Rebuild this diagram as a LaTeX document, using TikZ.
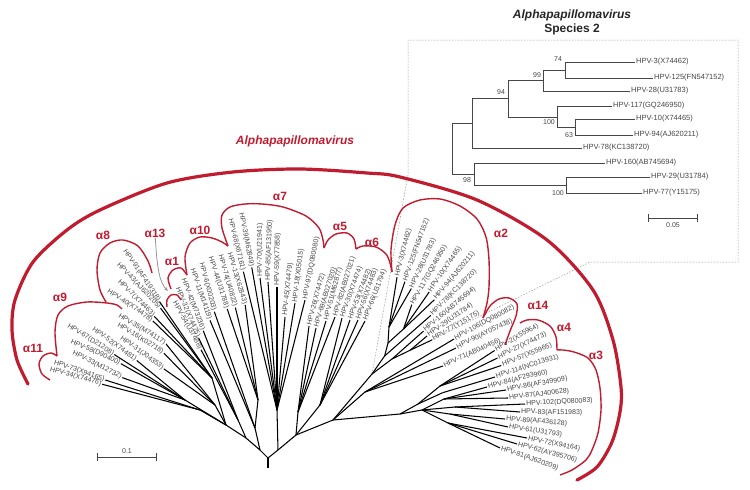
\documentclass[tikz,border=0pt]{standalone}
\usepackage{fontspec}
\setmainfont{Liberation Sans}
\usepackage{tikz}
\usetikzlibrary{arrows.meta}
\definecolor{myred}{RGB}{192,28,48}
\definecolor{mytext}{RGB}{70,70,70}
\definecolor{mygray}{RGB}{150,150,150}
\newcommand{\hpv}[2]{HPV-#1(#2)}
\tikzset{
  br/.style={line width=1.05pt, draw=black},
  ibr/.style={line width=0.6pt, draw=mytext},
  lab/.style={font=\fontsize{7}{8}\selectfont, text=mytext, inner sep=1pt, anchor=west},
  il/.style={lab, font=\fontsize{7.5}{8}\selectfont},
  num/.style={font=\fontsize{7}{8}\selectfont, text=mytext, inner sep=0pt},
  clade/.style={draw=myred, line width=1.4pt},
  cname/.style={text=myred, font=\bfseries\fontsize{12}{12}\selectfont, inner sep=0pt},
  bigarc/.style={draw=myred, line width=3.2pt, line cap=round},
  zoomline/.style={draw=mygray, line width=0.5pt, dash pattern=on 1.5pt off 1.5pt},
  sbar/.style={draw=mytext, line width=0.8pt, {Bar[width=8pt]}-{Bar[width=8pt]}},
  arr13/.style={draw=mygray, line width=0.8pt, -{Stealth[length=4pt, width=3pt]}}
}

\begin{document}
\begin{tikzpicture}[x=1pt, y=-1pt]
  \useasboundingbox (0,0) rectangle (750,490);

  % frame of the inset
  \coordinate (z1) at (408,175);
  \coordinate (z2) at (408,40);
  \coordinate (z3) at (738,40);
  \coordinate (z4) at (738,262);
  \coordinate (z5) at (590,262);

  % internal nodes of the big tree
  \coordinate (rb) at (268,468);
  \coordinate (r0) at (268,458);
  \coordinate (L) at (260,450);
  \coordinate (R) at (278,450);
  \coordinate (lA) at (246,438);
  \coordinate (lB) at (226,425);
  \coordinate (n11) at (200,410);
  \coordinate (s9a) at (185,400);
  \coordinate (s9b) at (215,405);
  \coordinate (n8) at (212,378);
  \coordinate (n1) at (238,420);
  \coordinate (n10) at (255,428);
  \coordinate (n10b) at (258,400);
  \coordinate (a7) at (277,410);
  \coordinate (r1) at (296,435);
  \coordinate (n5) at (298,412);
  \coordinate (n6) at (320,405);
  \coordinate (r2) at (333,420);
  \coordinate (a2) at (372,374);
  \coordinate (s78) at (384.6,356);
  \coordinate (s94) at (388,343);
  \coordinate (s23) at (389,327);
  \coordinate (s110) at (403.5,329);
  \coordinate (s98) at (392,359);
  \coordinate (s100) at (410.2,350.2);
  \coordinate (n14) at (365,392);
  \coordinate (r3) at (400,414);
  \coordinate (r4) at (418,404);
  \coordinate (n4) at (440,386);
  \coordinate (nA) at (442.6,392.7);
  \coordinate (n3) at (422,410);
  \coordinate (nB) at (444,399);
  \coordinate (nC) at (455,407);
  \coordinate (nD) at (449.7,414);
  \coordinate (nE) at (448,423);

  % leaf labels, left half (read towards the root)
  \node[lab, rotate=-16] (h34) at (49,369) {\hpv{34}{X74476}};
  \node[lab, rotate=-19] (h73) at (53,362) {\hpv{73}{X94165}};
  \node[lab, rotate=-27] (h33) at (72,352) {\hpv{33}{M12732}};
  \node[lab, rotate=-24] (h58) at (70,341) {\hpv{58}{D90400}};
  \node[lab, rotate=-32] (h67) at (67,325) {\hpv{67}{D21208}};
  \node[lab, rotate=-36] (h52) at (92,328) {\hpv{52}{X74481}};
  \node[lab, rotate=-36] (h31) at (120,337) {\hpv{31}{J04353}};
  \node[lab, rotate=-32] (h16) at (117,324) {\hpv{16}{K02718}};
  \node[lab, rotate=-31] (h35) at (118,315) {\hpv{35}{M74117}};
  \node[lab, rotate=-34] (h40) at (107,290) {\hpv{40}{X74478}};
  \node[lab, rotate=-45] (h7) at (118,280) {\hpv{7}{X74463}};
  \node[lab, rotate=-46] (h43) at (117,263) {\hpv{43}{AJ620205}};
  \node[lab, rotate=-56] (h91) at (124,249) {\hpv{91}{AF419318}};
  \node[lab, rotate=-61] (h54) at (174,301) {\hpv{54}{U37488}};
  \node[lab, rotate=-67] (h32) at (177,287) {\hpv{32}{X74475}};
  \node[lab, rotate=-69] (h42) at (183,278) {\hpv{42}{M73236}};
  \node[lab, rotate=-71] (h11) at (192,268) {\hpv{11}{M14119}};
  \node[lab, rotate=-75] (h6) at (201,262) {\hpv{6}{X00203}};
  \node[lab, rotate=-72] (h44) at (210,256) {\hpv{44}{U31788}};
  \node[lab, rotate=-74] (h74) at (220,254) {\hpv{74}{U40822}};
  \node[lab, rotate=-73] (h13) at (229,252) {\hpv{13}{X62843}};
  \node[lab, rotate=-76] (h68) at (230,218) {\hpv{68}{X67161}};
  \node[lab, rotate=-79] (h39) at (241,212) {\hpv{39}{M62849}};
  % leaf labels, right half (read away from the root)
  \node[lab, rotate=90] (h70) at (260,278) {\hpv{70}{U21941}};
  \node[lab, rotate=88] (h85) at (268,282) {\hpv{85}{AF131950}};
  \node[lab, rotate=89] (h59) at (277,287) {\hpv{59}{X77858}};
  \node[lab, rotate=84] (h45) at (285,317) {\hpv{45}{X74479}};
  \node[lab, rotate=83] (h18) at (295,303) {\hpv{18}{X05015}};
  \node[lab, rotate=79] (h97) at (305,300) {\hpv{97}{DQ080080}};
  \node[lab, rotate=75] (h26) at (309,326) {\hpv{26}{X74472}};
  \node[lab, rotate=73] (h69) at (316,328) {\hpv{69}{AB027020}};
  \node[lab, rotate=75] (h51) at (326,321) {\hpv{51}{M62877}};
  \node[lab, rotate=73] (h82) at (335,317) {\hpv{82}{AB027021}};
  \node[lab, rotate=70] (h30) at (342,318) {\hpv{30}{X74474}};
  \node[lab, rotate=69] (h53) at (350,320) {\hpv{53}{X74482}};
  \node[lab, rotate=71] (h56) at (358,320) {\hpv{56}{X74483}};
  \node[lab, rotate=69] (h66) at (365,321) {\hpv{66}{U31794}};
  \node[lab, rotate=75.5] (h3) at (397,277.2) {\hpv{3}{X74462}};
  \node[lab, rotate=70.4] (h125) at (404.9,281.7) {\hpv{125}{FN547152}};
  \node[lab, rotate=65.3] (h28) at (411.3,288.6) {\hpv{28}{U31783}};
  \node[lab, rotate=60.2] (h117) at (411.8,304.6) {\hpv{117}{GQ246950}};
  \node[lab, rotate=55.1] (h10) at (429.2,292) {\hpv{10}{X74465}};
  \node[lab, rotate=50] (h94) at (434.4,299.7) {\hpv{94}{AJ620211}};
  \node[lab, rotate=44.9] (h78) at (430.8,315.4) {\hpv{78}{KC138720}};
  \node[lab, rotate=39.8] (h160) at (423.5,331.1) {\hpv{160}{AB745694}};
  \node[lab, rotate=34.7] (h29) at (427.1,335.9) {\hpv{29}{U31784}};
  \node[lab, rotate=29.6] (h77) at (432,339.9) {\hpv{77}{Y15175}};
  \node[lab, rotate=28] (h106) at (454,339) {\hpv{106}{DQ080082}};
  \node[lab, rotate=26] (h90) at (456,348) {\hpv{90}{AY057438}};
  \node[lab, rotate=24] (h71) at (443,366) {\hpv{71}{AB040456}};
  \node[lab, rotate=30] (h2) at (494.6,350.5) {\hpv{2}{X55964}};
  \node[lab, rotate=26] (h27) at (497.5,358) {\hpv{27}{X74473}};
  \node[lab, rotate=21.8] (h57) at (501.3,365.5) {\hpv{57}{X55965}};
  \node[lab, rotate=17.8] (h114) at (495,377) {\hpv{114}{NC013931}};
  \node[lab, rotate=14.1] (h84) at (487,387) {\hpv{84}{AF293960}};
  \node[lab, rotate=10.4] (h86) at (506,390) {\hpv{86}{AF349909}};
  \node[lab, rotate=6.6] (h87) at (508,398) {\hpv{87}{AJ400628}};
  \node[lab, rotate=2.9] (h102) at (525,404) {\hpv{102}{DQ080083}};
  \node[lab, rotate=-0.8] (h83) at (520,412) {\hpv{83}{AF151983}};
  \node[lab, rotate=-4.5] (h89) at (505,419) {\hpv{89}{AF436128}};
  \node[lab, rotate=-8.2] (h61) at (508,427) {\hpv{61}{U31793}};
  \node[lab, rotate=-11.9] (h72) at (527,438) {\hpv{72}{X94164}};
  \node[lab, rotate=-15.7] (h62) at (517,444) {\hpv{62}{AY395706}};
  \node[lab, rotate=-19.4] (h81) at (500,448) {\hpv{81}{AJ620209}};

  \draw[zoomline] (a2) -- (z1) -- (z2) -- (z3) -- (z4) -- (z5) -- (h77.west);

  % genus outline
  \draw[bigarc] plot[smooth] coordinates {(28,384) (17,360) (12,330) (15,300)
    (33,262) (67,230) (100,210) (167,183) (233,172) (300,169) (367,173)
    (400,177) (477,200) (547,240) (593,290) (613,340) (621,387) (620,412)
    (612,442) (597,467) (577,480)};
  \node[text=myred, font=\bfseries\itshape\fontsize{12}{14}\selectfont] (genus) at (295,141) {Alphapapillomavirus};

  % species outlines
  \draw[clade] plot[smooth] coordinates {(50,380) (42,374) (39,364) (43,356) (51,353) (57,356)};
  \draw[clade] plot[smooth] coordinates {(57,356) (55,332) (58,315) (68,306) (87,302) (107,303) (117,305) (122,309)};
  \draw[clade] plot[smooth] coordinates {(106,302) (100,290) (97,270) (100,253) (110,243) (123,240) (138,246) (148,261) (152,273)};
  \draw[clade] plot[smooth] coordinates {(167,307) (167,300) (171,295) (177,295) (181,300)};
  \draw[clade] plot[smooth] coordinates {(171,289) (168,278) (173,270) (181,268) (187,275)};
  \draw[clade] plot[smooth] coordinates {(187,275) (185,257) (190,243) (200,237) (212,238) (222,242) (228,246)};
  \draw[clade] plot[smooth] coordinates {(228,246) (222,228) (222,215) (230,207) (245,204) (262,204) (283,207) (306,216) (319,228) (323,240) (324,248)};
  \draw[clade] plot[smooth] coordinates {(324,248) (328,240) (336,234) (347,233) (354,239) (356,249)};
  \draw[clade] plot[smooth] coordinates {(356,249) (363,246) (376,247) (386,254) (390,263) (392,272)};
  \draw[clade] plot[smooth] coordinates {(392,272) (391,250) (395,225) (403,208) (420,200) (440,199) (460,206) (477,219) (486,237) (489,260) (489,287) (487,303) (483,318)};
  \draw[clade] plot[smooth] coordinates {(483,318) (490,306) (499,299) (509,298) (517,304) (516,316) (510,331) (505,345)};
  \draw[clade] plot[smooth] coordinates {(520,323) (527,320) (538,320) (550,326) (556,337) (557,350)};
  \draw[clade] plot[smooth] coordinates {(557,350) (563,350) (574,352) (588,358) (596,370) (600,388) (601,410) (598,433) (592,450) (586,460) (572,470) (560,475)};

  \node[cname] (c11) at (33,348) {α11};
  \node[cname] (c9) at (60,297) {α9};
  \node[cname] (c8) at (103,235) {α8};
  \node[cname] (c13) at (155,233) {α13};
  \node[cname] (c1) at (172,261) {α1};
  \node[cname] (c10) at (200,230) {α10};
  \node[cname] (c7) at (280,196) {α7};
  \node[cname] (c5) at (340,226) {α5};
  \node[cname] (c6) at (372,242) {α6};
  \node[cname] (c2) at (501,233) {α2};
  \node[cname] (c14) at (538,305) {α14};
  \node[cname] (c4) at (564,327) {α4};
  \node[cname] (c3) at (596,355) {α3};
  \coordinate (p13) at (168,291);
  \draw[arr13] (c13) .. controls (157,266) and (159,282) .. (p13);

  % backbone
  \draw[br] (r0) -- (rb);
  \draw[br] (r0) -- (L);
  \draw[br] (r0) -- (R);
  \draw[br] (L) -- (lA);
  \draw[br] (lA) -- (lB);
  \draw[br] (lB) -- (n11);
  \draw[br] (lB) -- (s9a);
  \draw[br] (lB) -- (s9b);
  \draw[br] (lB) -- (n8);
  \draw[br] (lA) -- (n1);
  \draw[br] (L) -- (n10);
  \draw[br] (n10) -- (n10b);
  \draw[br] (R) -- (a7);
  \draw[br] (R) -- (r1);
  \draw[br] (r1) -- (n5);
  \draw[br] (r1) -- (n6);
  \draw[br] (r1) -- (r2);
  \draw[br] (r2) -- (a2);
  \draw[br] (a2) -- (s78);
  \draw[br] (s78) -- (s94);
  \draw[br] (s94) -- (s23);
  \draw[br] (s94) -- (s110);
  \draw[br] (a2) -- (s98);
  \draw[br] (s98) -- (s100);
  \draw[br] (r2) -- (n14);
  \draw[br] (r2) -- (r3);
  \draw[br] (r3) -- (r4);
  \draw[br] (r4) -- (n4);
  \draw[br] (r4) -- (nA);
  \draw[br] (r3) -- (n3);
  \draw[br] (n3) -- (nB);
  \draw[br] (n3) -- (nC);
  \draw[br] (n3) -- (nD);
  \draw[br] (n3) -- (nE);

  % leaf branches
  \draw[br] (n11) -- (h34.east);
  \draw[br] (n11) -- (h73.east);
  \draw[br] (s9a) -- (h33.east);
  \draw[br] (s9a) -- (h58.east);
  \draw[br] (s9a) -- (h67.east);
  \draw[br] (s9a) -- (h52.east);
  \draw[br] (s9b) -- (h31.east);
  \draw[br] (s9b) -- (h16.east);
  \draw[br] (s9b) -- (h35.east);
  \draw[br] (n8) -- (h40.east);
  \draw[br] (n8) -- (h7.east);
  \draw[br] (n8) -- (h43.east);
  \draw[br] (n8) -- (h91.east);
  \draw[br] (n1) -- (h54.east);
  \draw[br] (n1) -- (h32.east);
  \draw[br] (n1) -- (h42.east);
  \draw[br] (n10) -- (h11.east);
  \draw[br] (n10) -- (h6.east);
  \draw[br] (n10b) -- (h44.east);
  \draw[br] (n10b) -- (h74.east);
  \draw[br] (n10b) -- (h13.east);
  \draw[br] (a7) -- (h68.east);
  \draw[br] (a7) -- (h39.east);
  \draw[br] (a7) -- (h70.west);
  \draw[br] (a7) -- (h85.west);
  \draw[br] (a7) -- (h59.west);
  \draw[br] (a7) -- (h45.west);
  \draw[br] (a7) -- (h18.west);
  \draw[br] (a7) -- (h97.west);
  \draw[br] (n5) -- (h26.west);
  \draw[br] (n5) -- (h69.west);
  \draw[br] (n5) -- (h51.west);
  \draw[br] (n5) -- (h82.west);
  \draw[br] (n6) -- (h30.west);
  \draw[br] (n6) -- (h53.west);
  \draw[br] (n6) -- (h56.west);
  \draw[br] (n6) -- (h66.west);
  \draw[br] (s23) -- (h3.west);
  \draw[br] (s23) -- (h125.west);
  \draw[br] (s23) -- (h28.west);
  \draw[br] (s110) -- (h117.west);
  \draw[br] (s110) -- (h10.west);
  \draw[br] (s110) -- (h94.west);
  \draw[br] (s78) -- (h78.west);
  \draw[br] (s98) -- (h160.west);
  \draw[br] (s100) -- (h29.west);
  \draw[br] (s100) -- (h77.west);
  \draw[br] (n14) -- (h106.west);
  \draw[br] (n14) -- (h90.west);
  \draw[br] (n14) -- (h71.west);
  \draw[br] (n4) -- (h2.west);
  \draw[br] (n4) -- (h27.west);
  \draw[br] (n4) -- (h57.west);
  \draw[br] (nA) -- (h114.west);
  \draw[br] (nB) -- (h84.west);
  \draw[br] (nB) -- (h86.west);
  \draw[br] (nB) -- (h87.west);
  \draw[br] (nC) -- (h102.west);
  \draw[br] (nC) -- (h83.west);
  \draw[br] (nD) -- (h89.west);
  \draw[br] (nD) -- (h61.west);
  \draw[br] (nE) -- (h72.west);
  \draw[br] (nE) -- (h62.west);
  \draw[br] (nE) -- (h81.west);

  \coordinate (sb1) at (97,457);
  \coordinate (sb2) at (157,457);
  \draw[sbar] (sb1) -- node[num, above=3pt] (sbl) {0.1} (sb2);

  % inset: species 2
  \node[font=\bfseries\itshape\fontsize{12}{14}\selectfont, text=black!85] (ttl) at (572,15) {Alphapapillomavirus};
  \node[font=\bfseries\fontsize{12}{14}\selectfont, text=black!85] (ttl2) at (572,29) {Species 2};
  \coordinate (i0) at (452,148);
  \coordinate (iA) at (472,123);
  \coordinate (i98) at (474,174);
  \coordinate (i94) at (508,98);
  \coordinate (i99) at (543,80);
  \coordinate (i100) at (557,117);
  \coordinate (i74) at (565,70);
  \coordinate (i63) at (575,127);
  \coordinate (i100b) at (566,185);
  \node[il] (k3) at (635,62) {\hpv{3}{X74462}};
  \node[il] (k125) at (653,78) {\hpv{125}{FN547152}};
  \node[il] (k28) at (630,91) {\hpv{28}{U31783}};
  \node[il] (k117) at (612,106) {\hpv{117}{GQ246950}};
  \node[il] (k10) at (635,119) {\hpv{10}{X74465}};
  \node[il] (k94) at (633,135) {\hpv{94}{AJ620211}};
  \node[il] (k78) at (582,148) {\hpv{78}{KC138720}};
  \node[il] (k160) at (605,163) {\hpv{160}{AB745694}};
  \node[il] (k29) at (650,177) {\hpv{29}{U31784}};
  \node[il] (k77) at (642,193) {\hpv{77}{Y15175}};
  \draw[ibr] (i0) |- (iA);
  \draw[ibr] (i0) |- (i98);
  \draw[ibr] (iA) |- (i94);
  \draw[ibr] (iA) |- (k78.west);
  \draw[ibr] (i94) |- (i99);
  \draw[ibr] (i94) |- (i100);
  \draw[ibr] (i99) |- (i74);
  \draw[ibr] (i99) |- (k28.west);
  \draw[ibr] (i74) |- (k3.west);
  \draw[ibr] (i74) |- (k125.west);
  \draw[ibr] (i100) |- (k117.west);
  \draw[ibr] (i100) |- (i63);
  \draw[ibr] (i63) |- (k10.west);
  \draw[ibr] (i63) |- (k94.west);
  \draw[ibr] (i98) |- (k160.west);
  \draw[ibr] (i98) |- (i100b);
  \draw[ibr] (i100b) |- (k29.west);
  \draw[ibr] (i100b) |- (k77.west);
  \node[num] (b74) at (558,59) {74};
  \node[num] (b99) at (537,75) {99};
  \node[num] (b94) at (501,92) {94};
  \node[num] (b100) at (549,122) {100};
  \node[num] (b63) at (569,135) {63};
  \node[num] (b98) at (467,180) {98};
  \node[num] (b100b) at (558,193) {100};
  \coordinate (ib1) at (648,218);
  \coordinate (ib2) at (698,218);
  \draw[sbar] (ib1) -- node[num, below=4pt] (ibl) {0.05} (ib2);
\end{tikzpicture}
\end{document}
